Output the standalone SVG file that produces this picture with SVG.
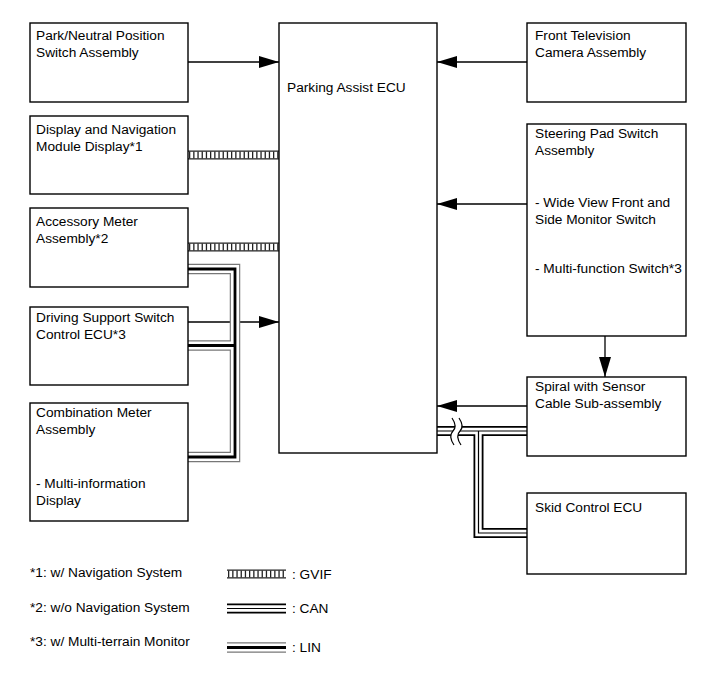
<svg xmlns="http://www.w3.org/2000/svg" width="713" height="681" viewBox="0 0 713 681">
<style>
  .box { fill: #fff; stroke: #000; stroke-width: 1.4; }
  text { font-family: "Liberation Sans", Arial, sans-serif; font-size: 13.7px; fill: #000; }
  .arrow { fill: none; stroke: #000; stroke-width: 1.3; marker-end: url(#arr); }
  .gv-edge { fill: none; stroke: #222; stroke-width: 1.3; }
  .gv-tick { fill: none; stroke: #222; stroke-width: 7; stroke-dasharray: 1.3 2.9; }
  .lin1 { fill: none; stroke: #777; stroke-width: 10.5; stroke-linejoin: miter; }
  .lin2 { fill: none; stroke: #fff; stroke-width: 8.2; stroke-linejoin: miter; }
  .lin3 { fill: none; stroke: #000; stroke-width: 2.8; stroke-linejoin: miter; }
  .can1 { fill: none; stroke: #000; stroke-width: 10; stroke-linejoin: miter; }
  .can2 { fill: none; stroke: #fff; stroke-width: 6.4; stroke-linejoin: miter; }
  .can3 { fill: none; stroke: #000; stroke-width: 1.2; stroke-linejoin: miter; }
</style>
<defs>
  <marker id="arr" viewBox="0 0 20 12" refX="20" refY="6" markerWidth="20" markerHeight="12" markerUnits="userSpaceOnUse" orient="auto">
    <path d="M0,0 L20,6 L0,12 Z" fill="#000"/>
  </marker>
</defs>
<rect width="713" height="681" fill="#fff"/>

<g id="connectors">
  <path class="arrow" d="M188,62 H279"/>
  <path class="arrow" d="M527,62 H437"/>
  <path class="arrow" d="M188,322 H279"/>
  <path class="arrow" d="M527,204 H437"/>
  <path class="arrow" d="M605,336 V377"/>
  <path class="arrow" d="M527,406 H437"/>
  <g id="gvif-lines">
    <path class="gv-tick" d="M189,155 H279 M189,247 H279"/>
    <path class="gv-edge" d="M188,151.2 H279 M188,158.8 H279 M188,243.2 H279 M188,250.8 H279"/>
  </g>
  <g id="lin-bus">
    <path class="lin1" d="M188,269 H235 V457 H188 M235,345.5 H188"/>
    <path class="lin2" d="M188,269 H235 V457 H188 M235,345.5 H188"/>
    <path class="lin3" d="M188,269 H235 V457 H188 M235,345.5 H188"/>
  </g>
  <g id="can-bus">
    <path class="can1" d="M437,431 H527 M478.5,431 V533 H527"/>
    <path class="can2" d="M437,431 H527 M478.5,431 V533 H527"/>
    <path class="can3" d="M437,431 H527 M478.5,431 V533 H527"/>
    <path d="M452,418 C456,424 456,428 453,431 C450,434 450,439 454,445 L461,445 C457,439 457,434 460,431 C463,428 463,424 459,418 Z" fill="#fff"/>
    <path d="M452,418 C456,424 456,428 453,431 C450,434 450,439 454,445 M459,418 C463,424 463,428 460,431 C457,434 457,439 461,445" fill="none" stroke="#000" stroke-width="1.2"/>
  </g>
</g>

<g id="ecu">
  <rect class="box" x="279" y="23" width="158" height="430"/>
  <text x="287" y="92">Parking Assist ECU</text>
</g>
<g id="park-neutral">
  <rect class="box" x="30" y="23" width="158" height="79"/>
  <text x="36" y="40">Park/Neutral Position</text>
  <text x="36" y="57">Switch Assembly</text>
</g>
<g id="display-nav">
  <rect class="box" x="30" y="116" width="158" height="78"/>
  <text x="36" y="134">Display and Navigation</text>
  <text x="36" y="151">Module Display*1</text>
</g>
<g id="accessory-meter">
  <rect class="box" x="30" y="208" width="158" height="79"/>
  <text x="36" y="226">Accessory Meter</text>
  <text x="36" y="243">Assembly*2</text>
</g>
<g id="driving-support">
  <rect class="box" x="30" y="307" width="158" height="78"/>
  <text x="36" y="322">Driving Support Switch</text>
  <text x="36" y="339">Control ECU*3</text>
</g>
<g id="combination-meter">
  <rect class="box" x="30" y="403" width="158" height="118"/>
  <text x="36" y="417">Combination Meter</text>
  <text x="36" y="434">Assembly</text>
  <text x="36" y="488">- Multi-information</text>
  <text x="36" y="505">Display</text>
</g>
<g id="front-camera">
  <rect class="box" x="527" y="23" width="159" height="79"/>
  <text x="535" y="40">Front Television</text>
  <text x="535" y="57">Camera Assembly</text>
</g>
<g id="steering-pad">
  <rect class="box" x="527" y="124" width="159" height="212"/>
  <text x="535" y="138">Steering Pad Switch</text>
  <text x="535" y="155">Assembly</text>
  <text x="535" y="207">- Wide View Front and</text>
  <text x="535" y="224">Side Monitor Switch</text>
  <text x="535" y="273">- Multi-function Switch*3</text>
</g>
<g id="spiral">
  <rect class="box" x="527" y="377" width="159" height="79"/>
  <text x="535" y="391">Spiral with Sensor</text>
  <text x="535" y="408">Cable Sub-assembly</text>
</g>
<g id="skid-control">
  <rect class="box" x="527" y="493" width="159" height="81"/>
  <text x="535" y="512">Skid Control ECU</text>
</g>

<g id="notes">
  <text x="30" y="577">*1: w/ Navigation System</text>
  <text x="30" y="612">*2: w/o Navigation System</text>
  <text x="30" y="646">*3: w/ Multi-terrain Monitor</text>
</g>
<g id="legend">
  <path class="gv-tick" d="M228,574 H286"/>
  <path class="gv-edge" d="M227,570.2 H286 M227,577.8 H286"/>
  <text x="292" y="578.5">: GVIF</text>
  <path class="can1" d="M227,608.5 H286"/>
  <path class="can2" d="M227,608.5 H286"/>
  <path class="can3" d="M227,608.5 H286"/>
  <text x="292" y="613">: CAN</text>
  <path class="lin1" d="M227,647.5 H286"/>
  <path class="lin2" d="M227,647.5 H286"/>
  <path class="lin3" d="M227,647.5 H286"/>
  <text x="292" y="652">: LIN</text>
</g>
</svg>
